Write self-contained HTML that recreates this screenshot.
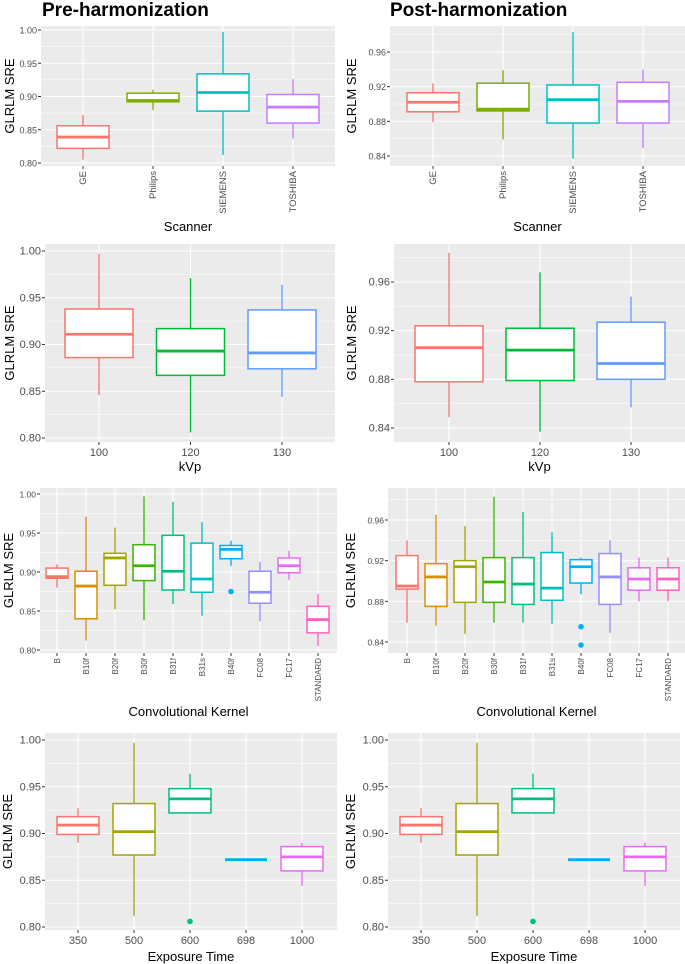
<!DOCTYPE html>
<html><head><meta charset="utf-8"><style>
body{margin:0;background:#fff;width:685px;height:964px;overflow:hidden}
svg{display:block;font-family:"Liberation Sans",sans-serif}
</style></head><body>
<svg id="fig" width="685" height="964" viewBox="0 0 685 964" xmlns="http://www.w3.org/2000/svg">
<text x="42" y="16" font-size="19" font-weight="bold">Pre-harmonization</text>
<text x="390" y="16" font-size="19" font-weight="bold">Post-harmonization</text>
</svg>
<script>
// ---- data: each stat row = [lower whisker, q1, median, q3, upper whisker]
const scannerCats = ["GE","Philips","SIEMENS","TOSHIBA"];
const scannerPre = [[0.805,0.822,0.839,0.856,0.872],[0.880,0.892,0.894,0.905,0.910],[0.812,0.878,0.906,0.934,0.997],[0.837,0.860,0.884,0.903,0.926]];
const scannerPost = [[0.879,0.891,0.902,0.913,0.924],[0.859,0.892,0.894,0.924,0.939],[0.837,0.878,0.905,0.922,0.983],[0.849,0.878,0.903,0.925,0.940]];
const kvpCats = ["100","120","130"];
const kvpPre = [[0.846,0.886,0.911,0.938,0.997],[0.806,0.867,0.893,0.917,0.971],[0.844,0.874,0.891,0.937,0.964]];
const kvpPost = [[0.849,0.878,0.906,0.924,0.984],[0.837,0.879,0.904,0.922,0.968],[0.857,0.880,0.893,0.927,0.948]];
const kernelCats = ["B","B10f","B20f","B30f","B31f","B31s","B40f","FC08","FC17","STANDARD"];
const kernelPre = [[0.880,0.892,0.894,0.905,0.910],[0.812,0.840,0.882,0.901,0.971],[0.852,0.883,0.918,0.924,0.957],[0.838,0.889,0.908,0.935,0.997],[0.859,0.877,0.901,0.947,0.990],[0.844,0.874,0.891,0.937,0.964],[0.908,0.917,0.929,0.934,0.940],[0.837,0.860,0.874,0.901,0.913],[0.890,0.899,0.908,0.918,0.927],[0.805,0.822,0.839,0.856,0.872]];
const kernelPreOut = [[],[],[],[],[],[],[0.875],[],[],[]];
const kernelPost = [[0.859,0.892,0.895,0.925,0.940],[0.856,0.875,0.904,0.917,0.965],[0.848,0.879,0.914,0.920,0.954],[0.859,0.879,0.899,0.923,0.983],[0.859,0.877,0.897,0.923,0.968],[0.858,0.881,0.893,0.928,0.948],[0.887,0.898,0.914,0.921,0.923],[0.849,0.877,0.904,0.927,0.940],[0.880,0.891,0.902,0.913,0.923],[0.880,0.891,0.902,0.913,0.923]];
const kernelPostOut = [[],[],[],[],[],[],[0.855,0.837],[],[],[]];
const expCats = ["350","500","600","698","1000"];
const expPre = [[0.890,0.899,0.909,0.918,0.927],[0.812,0.877,0.902,0.932,0.997],[0.922,0.922,0.937,0.948,0.964],[0.872,0.872,0.872,0.872,0.872],[0.844,0.860,0.875,0.886,0.890]];
const expPreOut = [[],[],[0.806],[],[]];
const expPost = [[0.890,0.899,0.909,0.918,0.927],[0.812,0.877,0.902,0.932,0.997],[0.922,0.922,0.937,0.948,0.964],[0.872,0.872,0.872,0.872,0.872],[0.844,0.860,0.875,0.886,0.890]];
const expPostOut = [[],[],[0.806],[],[]];
const ticks100 = ["0.80","0.85","0.90","0.95","1.00"];
const ticks96 = ["0.84","0.88","0.92","0.96"];

const pal4=["#F8766D","#7CAE00","#00BFC4","#C77CFF"];
const pal3=["#F8766D","#00BA38","#619CFF"];
const pal10=["#F8766D","#D89000","#A3A500","#39B600","#00BF7D","#00BFC4","#00B0F6","#9590FF","#E76BF3","#FF62BC"];
const pal5=["#F8766D","#A3A500","#00BF7D","#00B0F6","#E76BF3"];

const svg=document.getElementById('fig');
const NS="http://www.w3.org/2000/svg";
function mk(tag,attrs,parent){const e=document.createElementNS(NS,tag);for(const k in attrs)e.setAttribute(k,attrs[k]);(parent||svg).appendChild(e);return e;}

function panel(o){
  const g=mk('g',{});
  
  
  const [x0,y0,x1,y1]=o.rect;
  const [va,pa,vb,pb]=o.anchors;
  const Y=v=>pa+(v-va)*(pb-pa)/(vb-va);
  const X=i=>o.c0+i*o.step;
  const bg=mk('rect',{x:x0,y:y0,width:x1-x0,height:y1-y0,fill:'#EBEBEB'},g);
  
  
  const tv=o.ticks.map(Number);
  const st=tv[1]-tv[0];
  for(let v=tv[0]-st/2;v<=tv[tv.length-1]+st;v+=st){const y=Y(v);if(y>y0&&y<y1)mk('line',{x1:x0,x2:x1,y1:y,y2:y,stroke:'#fff','stroke-width':0.5},g);}
  o.ticks.forEach(t=>{const y=Y(+t);
    mk('line',{x1:x0,x2:x1,y1:y,y2:y,stroke:'#fff','stroke-width':1.1},g);
    mk('line',{x1:x0-3,x2:x0,y1:y,y2:y,stroke:'#333','stroke-width':1},g);
    const tx=mk('text',{x:x0-4,y:y+3.5,'font-size':o.yfs,'text-anchor':'end',fill:'#4D4D4D'},g);tx.textContent=t;
    
    
  });
  o.cats.forEach((c,i)=>{const x=X(i);
    mk('line',{x1:x,x2:x,y1:y0,y2:y1,stroke:'#fff','stroke-width':1.1},g);
    mk('line',{x1:x,x2:x,y1:y1,y2:y1+3,stroke:'#333','stroke-width':1},g);
    let tx;
    if(o.rot){tx=mk('text',{x:0,y:0,'font-size':o.xfs,'text-anchor':'end',fill:'#4D4D4D',transform:`translate(${x+3},${y1+5}) rotate(-90)`},g);}
    else{tx=mk('text',{x:x,y:y1+14,'font-size':o.xfs,'text-anchor':'middle',fill:'#4D4D4D'},g);}
    tx.textContent=c;
    
    
    const s=o.stats[i],col=o.pal[i];
    const bx=mk('g',{},g);
    
    
    mk('line',{x1:x,x2:x,y1:Y(s[4]),y2:Y(s[3]),stroke:col,'stroke-width':1.3},bx);
    mk('line',{x1:x,x2:x,y1:Y(s[1]),y2:Y(s[0]),stroke:col,'stroke-width':1.3},bx);
    mk('rect',{x:x-o.hw,y:Y(s[3]),width:2*o.hw,height:Math.max(0,Y(s[1])-Y(s[3])),fill:'#fff',stroke:col,'stroke-width':1.5},bx);
    mk('line',{x1:x-o.hw,x2:x+o.hw,y1:Y(s[2]),y2:Y(s[2]),stroke:col,'stroke-width':2.8},bx);
    (o.out?o.out[i]:[]).forEach(v=>{const p=mk('circle',{cx:x,cy:Y(v),r:2.8,fill:col},bx);
      
      });
  });
  const yt=mk('text',{x:0,y:0,'font-size':13,'text-anchor':'middle',transform:`translate(${o.ytx},${(y0+y1)/2}) rotate(-90)`},g);
  yt.textContent='GLRLM SRE';
  
  
  const xt=mk('text',{x:(x0+x1)/2,y:o.xty,'font-size':13,'text-anchor':'middle'},g);
  xt.textContent=o.xtitle;
  
  
}

panel({name:'pre-scanner-panel',rect:[41,26,335,166],anchors:[1.00,30,0.80,163],ticks:ticks100,cats:scannerCats,stats:scannerPre,pal:pal4,c0:83,step:70,hw:26,rot:true,xfs:9.5,yfs:9,ytx:14,xty:231,xtitle:'Scanner'});
panel({name:'post-scanner-panel',rect:[390,26,685,166],anchors:[0.96,52,0.84,156],ticks:ticks96,cats:scannerCats,stats:scannerPost,pal:pal4,c0:433,step:70,hw:26,rot:true,xfs:9.5,yfs:9,ytx:356,xty:231,xtitle:'Scanner'});
panel({name:'pre-kvp-panel',rect:[45,244,335,442],anchors:[1.00,251,0.80,438],ticks:ticks100,cats:kvpCats,stats:kvpPre,pal:pal3,c0:99,step:91.5,hw:34,rot:false,xfs:11,yfs:11,ytx:14,xty:471,xtitle:'kVp'});
panel({name:'post-kvp-panel',rect:[394,244,685,442],anchors:[0.96,282,0.84,428],ticks:ticks96,cats:kvpCats,stats:kvpPost,pal:pal3,c0:449,step:91,hw:34,rot:false,xfs:11,yfs:11,ytx:356,xty:471,xtitle:'kVp'});
panel({name:'pre-kernel-panel',rect:[40,488,337,653],anchors:[1.00,494,0.80,650],ticks:ticks100,cats:kernelCats,stats:kernelPre,out:kernelPreOut,pal:pal10,c0:57,step:29,hw:11,rot:true,xfs:8,yfs:8.5,ytx:13,xty:716,xtitle:'Convolutional Kernel'});
panel({name:'post-kernel-panel',rect:[388,488,685,653],anchors:[0.96,520,0.84,642],ticks:ticks96,cats:kernelCats,stats:kernelPost,out:kernelPostOut,pal:pal10,c0:407,step:29,hw:11,rot:true,xfs:8,yfs:8.5,ytx:355,xty:716,xtitle:'Convolutional Kernel'});
panel({name:'pre-exposure-panel',rect:[45,733,337,930],anchors:[1.00,740,0.80,927],ticks:ticks100,cats:expCats,stats:expPre,out:expPreOut,pal:pal5,c0:78,step:56,hw:21,rot:false,xfs:11,yfs:11,ytx:12,xty:961,xtitle:'Exposure Time'});
panel({name:'post-exposure-panel',rect:[388,733,680,930],anchors:[1.00,740,0.80,927],ticks:ticks100,cats:expCats,stats:expPost,out:expPostOut,pal:pal5,c0:421,step:56,hw:21,rot:false,xfs:11,yfs:11,ytx:355,xty:961,xtitle:'Exposure Time'});
</script>
</body></html>
